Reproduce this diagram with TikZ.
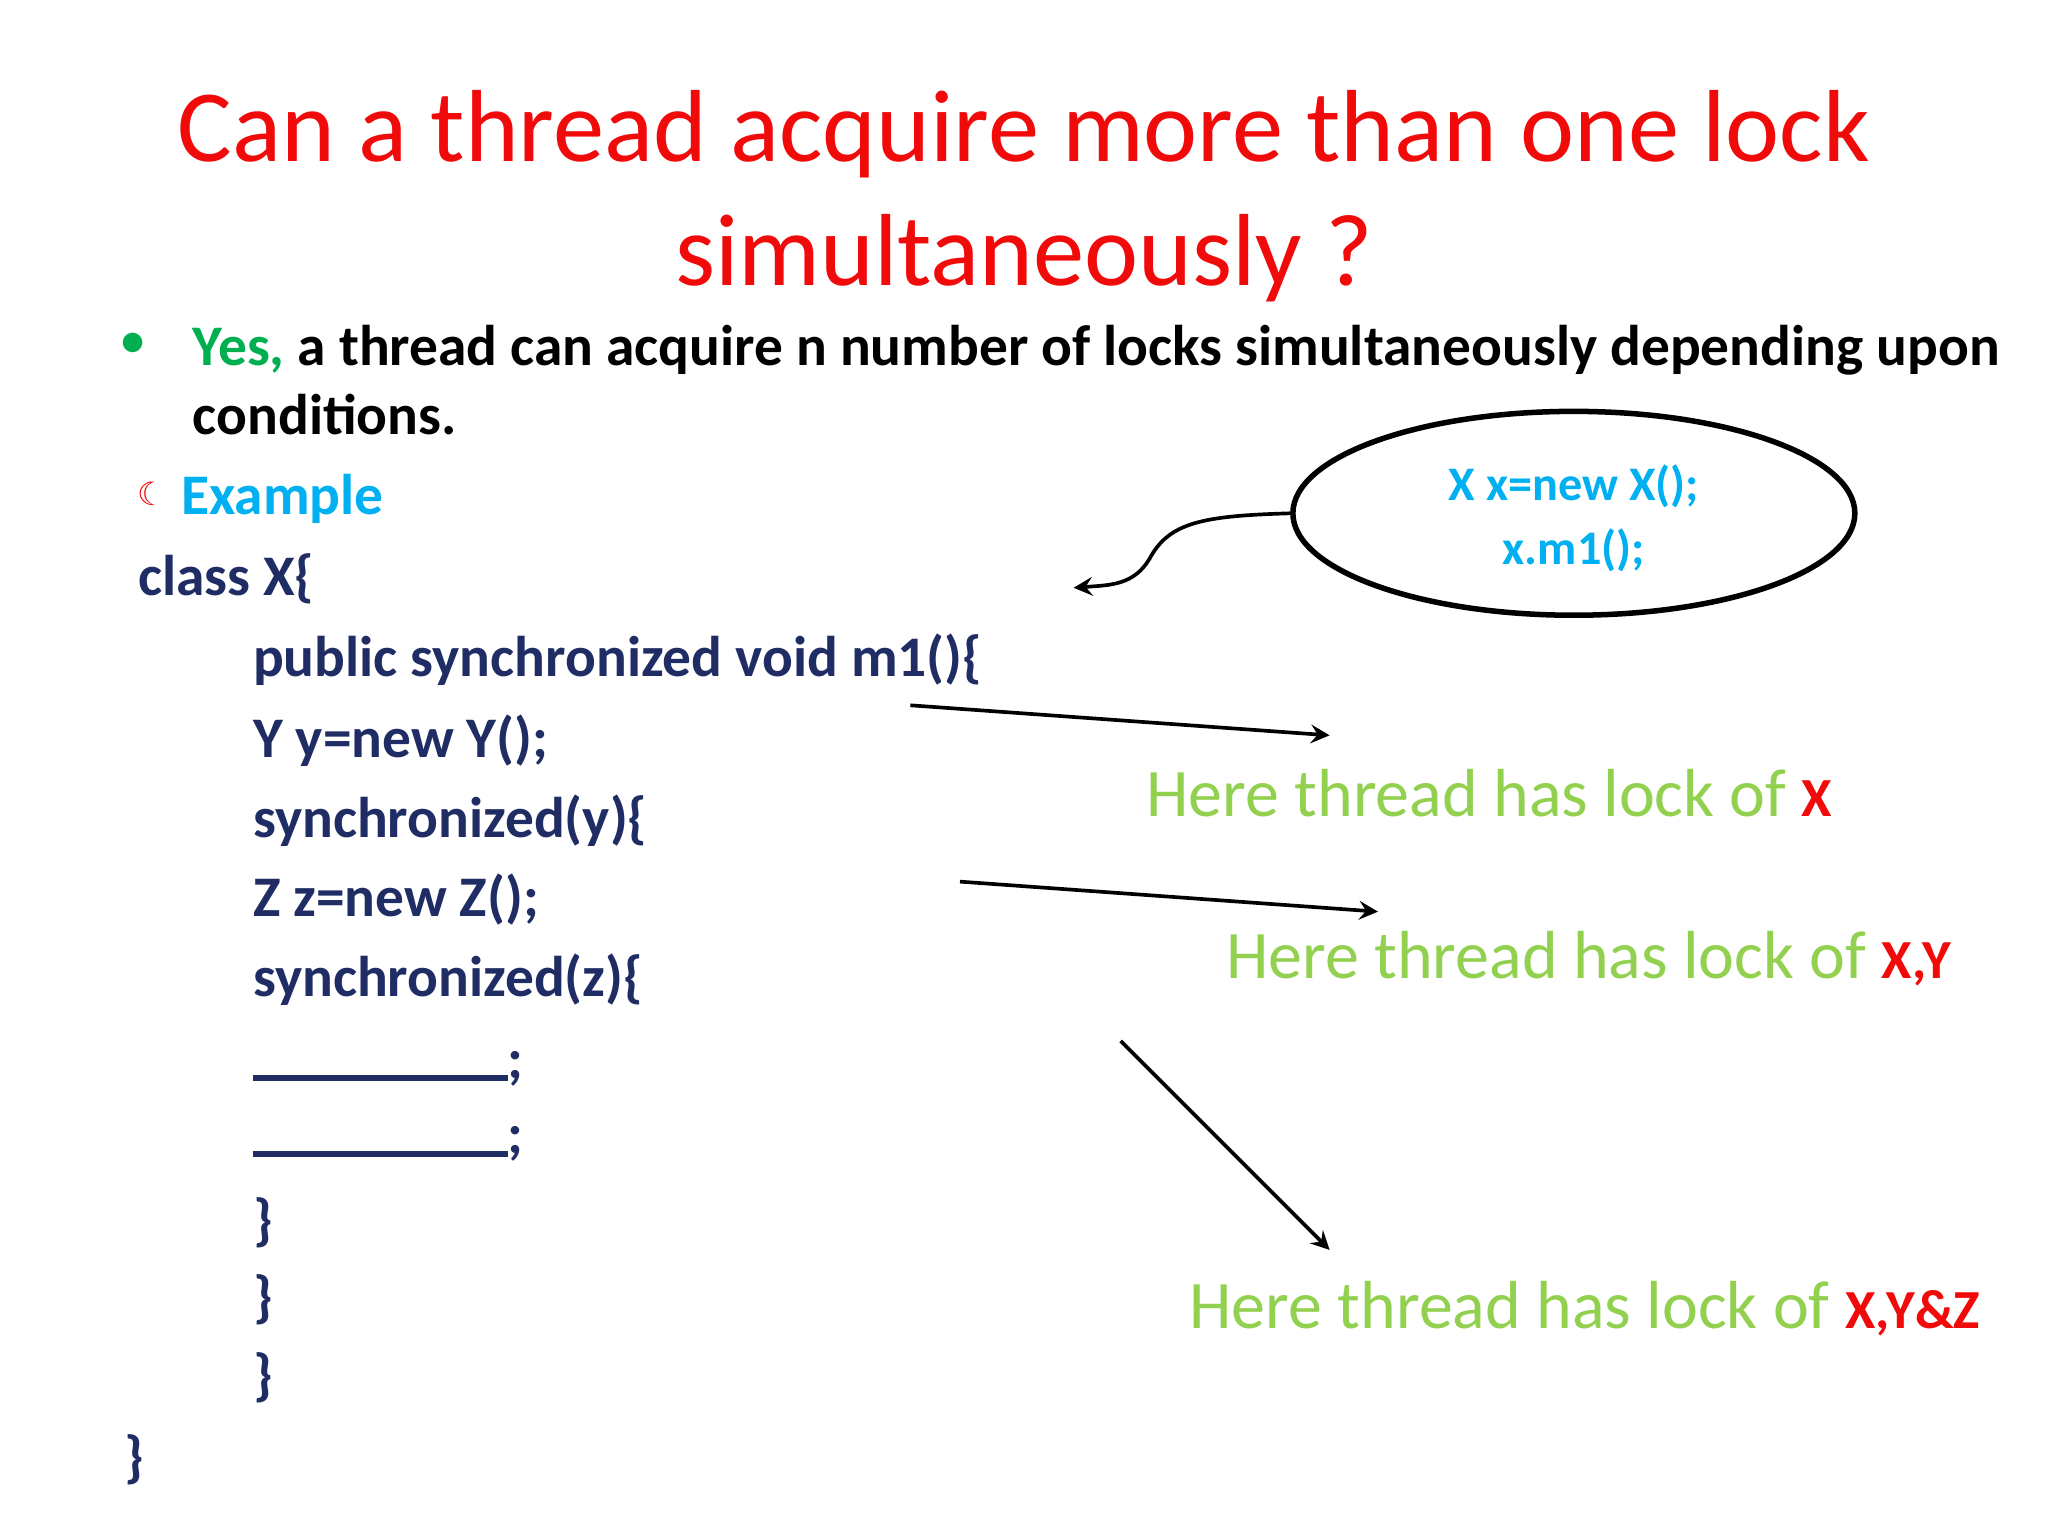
\documentclass[tikz,border=0pt]{standalone}
\usepackage{fontspec}
\setmainfont{Carlito}
\newfontfamily\symfont{DejaVu Sans}
\usetikzlibrary{shapes.geometric}
\definecolor{titlered}{RGB}{240,10,10}
\definecolor{yesgreen}{RGB}{0,176,80}
\definecolor{codeblue}{RGB}{31,45,100}
\definecolor{excyan}{RGB}{0,176,240}
\definecolor{lockgreen}{RGB}{146,208,80}
\tikzset{
  code/.style={anchor=west, text=codeblue, font=\fontsize{12.5}{14}\selectfont\bfseries, inner sep=0pt},
  locktext/.style={anchor=west, text=lockgreen, font=\fontsize{14.8}{16}\selectfont, inner sep=0pt},
  ptr/.style={->, >=stealth, thick}
}
\newcommand{\blank}{\rule[-0.6pt]{1.95cm}{1.2pt};}
\newcommand{\lockof}[1]{\textcolor{titlered}{\fontsize{12}{14}\selectfont\bfseries #1}}
\begin{document}
\begin{tikzpicture}[x=0.01cm,y=-0.01cm]
\useasboundingbox (0,0) rectangle (1568,1176);
% title
\node[text=titlered, font=\fontsize{22.3}{27}\selectfont, align=center] (title) at (784,150)
  {Can a thread acquire more than one lock\\simultaneously ?};
% bullet
\node[text=yesgreen, font=\fontsize{11}{12}\selectfont] (dot) at (102,264) {$\bullet$};
\node[anchor=north west, align=left, inner sep=0pt, font=\fontsize{12.5}{15}\selectfont\bfseries] (yes) at (147,248)
  {\textcolor{yesgreen}{Yes,} a thread can acquire n number of locks simultaneously depending upon\\conditions.};
\node[text=titlered, font=\symfont\fontsize{7}{8}\selectfont] (moon) at (116,378) {☾};
\node[anchor=west, inner sep=0pt, text=excyan, font=\fontsize{12.5}{14}\selectfont\bfseries] (example) at (138,382) {Example};
% code
\node[code] (c1) at (105,443) {class X\{};
\node[code] (c2) at (193,505) {public synchronized void m1()\{};
\node[code] (c3) at (193,567) {Y y=new Y();};
\node[code] (c4) at (193,628) {synchronized(y)\{};
\node[code] (c5) at (193,689) {Z z=new Z();};
\node[code] (c6) at (193,750) {synchronized(z)\{};
\node[code] (c7) at (193,818) {\blank};
\node[code] (c8) at (193,876) {\blank};
\node[code] (c9) at (193,936) {\}};
\node[code] (c10) at (193,995) {\}};
\node[code] (c11) at (193,1055) {\}};
\node[code] (c12) at (95,1118) {\}};
% call ellipse
\node[draw, very thick, ellipse, minimum width=4.3cm, minimum height=1.56cm, inner sep=0pt] (call) at (1205,393) {};
\node[text=excyan, align=center, font=\fontsize{10.5}{14}\selectfont\bfseries] (calltext) at (1205,397) {X x=new X();\\x.m1();};
% lock labels
\node[locktext] (l1) at (877,607) {Here thread has lock of \lockof{X}};
\node[locktext] (l2) at (938,734) {Here thread has lock of \lockof{X,Y}};
\node[locktext] (l3) at (910,1002) {Here thread has lock of \lockof{X,Y\&Z}};
% arrow ends
\coordinate (a1s) at (697,540);
\coordinate (a1e) at (1018,563);
\coordinate (a2s) at (735,675);
\coordinate (a2e) at (1055,698);
\coordinate (a3s) at (858,797);
\coordinate (a3e) at (1018,957);
\coordinate (ce) at (822,450);
\draw[ptr] (call.west) .. controls (920,395) and (895,400) .. (880,428) .. controls (868,448) and (850,448) .. (ce);
\draw[ptr] (a1s) -- (a1e);
\draw[ptr] (a2s) -- (a2e);
\draw[ptr] (a3s) -- (a3e);
\end{tikzpicture}
\end{document}
